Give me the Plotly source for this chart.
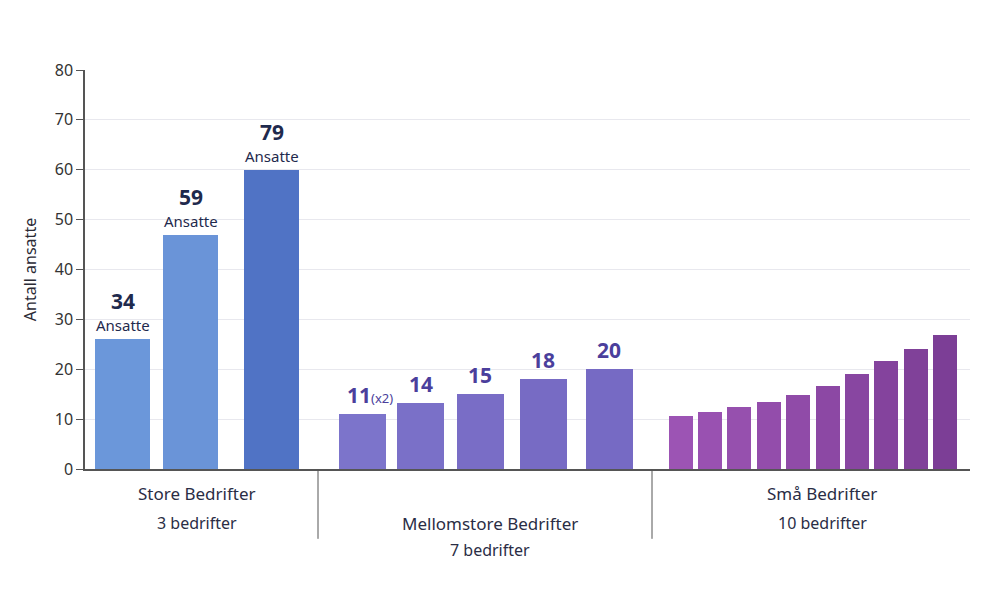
import plotly.graph_objects as go

# ---- data ----
store_values = [26.1, 47.0, 60.0]
store_labels = ["34", "59", "79"]
medium_values = [11.0, 13.2, 15.0, 18.0, 20.0]
medium_labels = ["11<span style='font-size:13px;font-weight:normal'>(x2)</span>", "14", "15", "18", "20"]
small_values = [10.6, 11.4, 12.4, 13.4, 14.8, 16.7, 19.0, 21.7, 24.1, 26.8]
group_names = ["Store Bedrifter", "Mellomstore Bedrifter", "Små Bedrifter"]
group_counts = ["3 bedrifter", "7 bedrifter", "10 bedrifter"]
y_ticks = [0, 10, 20, 30, 40, 50, 60, 70, 80]

# ---- layout constants (plot x-units) ----
store_x = [37.5, 105.5, 186.5]
medium_x = [277, 335.5, 395, 458, 524]
small_x = [595.5 + i * 29.4 for i in range(len(small_values))]
store_w, medium_w, small_w = 55, 47, 24
sep_x = [233, 567]
group_cx = [112, 405, 737]

store_colors = ["#6b97da", "#6a94d8", "#5073c5"]
medium_colors = ["#7c74cb", "#7a70c8", "#796dc6", "#776bc4", "#766ac4"]
small_colors = ["#9c54b4", "#9951b1", "#9650ae", "#934dab", "#904ba8",
                "#8c48a4", "#8846a1", "#84439d", "#804199", "#7c3e96"]

fig = go.Figure()
fig.add_bar(x=store_x, y=store_values, width=store_w, marker=dict(color=store_colors, line_width=0))
fig.add_bar(x=medium_x, y=medium_values, width=medium_w, marker=dict(color=medium_colors, line_width=0))
fig.add_bar(x=small_x, y=small_values, width=small_w, marker=dict(color=small_colors, line_width=0))

ann = []
for x, v, lab in zip(store_x, store_values, store_labels):
    ann.append(dict(x=x, y=v, text="Ansatte", showarrow=False, yanchor="bottom", yshift=2,
                    font=dict(size=15, color="#1f2a4d")))
    ann.append(dict(x=x, y=v, text="<b>" + lab + "</b>", showarrow=False, yanchor="bottom", yshift=22,
                    font=dict(size=21, color="#1f2a4d")))
for x, v, lab in zip(medium_x, medium_values, medium_labels):
    ann.append(dict(x=x + (8 if "x2" in lab else 0), y=v, text="<b>" + lab + "</b>", showarrow=False,
                    yanchor="bottom", yshift=3, font=dict(size=21, color="#4b3f9c")))
for cx, name, cnt, i in zip(group_cx, group_names, group_counts, range(3)):
    dy = 30 if i == 1 else 0
    ann.append(dict(x=cx, y=0, text=name, showarrow=False, yanchor="top", yshift=-11 - dy,
                    font=dict(size=17, color="#2a2d45", family="Noto Sans")))
    ann.append(dict(x=cx, y=0, text=cnt, showarrow=False, yanchor="top", yshift=-41 - dy + (3 if i == 1 else 0),
                    font=dict(size=16, color="#2a2d45", family="Noto Sans")))

shapes = [dict(type="line", xref="x", yref="paper", x0=sx, x1=sx, y0=0, y1=-0.175,
               line=dict(color="#555", width=1)) for sx in sep_x]

fig.update_layout(
    width=989, height=612,
    margin=dict(l=77, r=27, t=62, b=151, autoexpand=False),
    paper_bgcolor="white", plot_bgcolor="white",
    showlegend=False, bargap=0,
    font=dict(family="Noto Sans", color="#333"),
    annotations=ann, shapes=shapes,
)
fig.update_xaxes(range=[0, 885], showticklabels=False, showgrid=False, zeroline=False,
                 showline=True, linecolor="#555", linewidth=1.5, ticks="", automargin=False)
fig.update_yaxes(range=[0, 80], tickvals=y_ticks, showgrid=True, gridcolor="#e8e8ee", gridwidth=1,
                 zeroline=False, showline=True, linecolor="#555", linewidth=1.5,
                 ticks="outside", ticklen=7, tickcolor="#555", automargin=False,
                 tickfont=dict(size=16, color="#333"),
                 title=dict(text="Antall ansatte", font=dict(size=16, color="#2a2a35"), standoff=14))

fig.write_html("out.html")
